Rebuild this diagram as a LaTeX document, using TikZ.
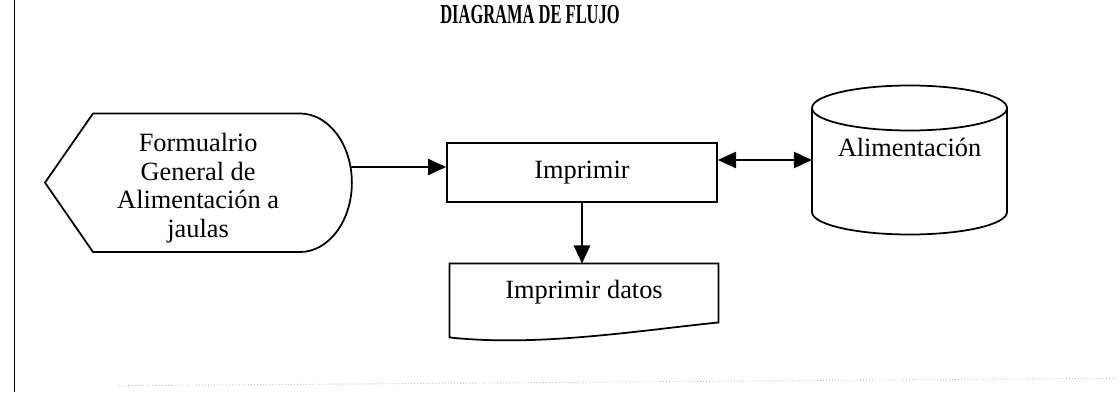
\documentclass[tikz,border=0pt]{standalone}
\usepackage{fontspec}
\setmainfont{Liberation Serif}
\usepackage{graphicx}
\usepackage{tikz}
\usetikzlibrary{arrows.meta,positioning}

\begin{document}
\begin{tikzpicture}[
  txt/.style={align=center,font=\fontsize{12}{13}\selectfont,inner sep=1pt},
  proc/.style={draw,line width=0.8pt,minimum width=4.32cm,minimum height=0.944cm,
               font=\fontsize{12}{13}\selectfont},
  doc/.style={minimum width=4.288cm,minimum height=1.168cm,text depth=0.36cm,
              font=\fontsize{12}{13}\selectfont},
  shp/.style={line width=0.8pt},
  ar/.style={-{Triangle[length=2.9mm,width=2.6mm]},line width=0.7pt},
  dar/.style={{Triangle[length=2.9mm,width=2.6mm]}-{Triangle[length=2.9mm,width=2.6mm]},line width=0.7pt}
]
\useasboundingbox (0,0) rectangle (17.888,6.272);
% what is left of the page frame
\draw[line width=0.6pt] (0.23,0) -- (0.23,6.272);
\draw[gray!55,densely dotted,line width=0.4pt] (1.9,0.1) -- (17.888,0.22);
% title
\node[font=\bfseries\fontsize{12.5}{14}\selectfont] (title) at (8.48,6.04) {\scalebox{0.6}[1]{DIAGRAMA DE FLUJO}};
% display: the form
\draw[shp] (1.488,4.456) -- (4.8,4.456) arc[start angle=90,end angle=-90,x radius=0.83,y radius=1.108]
  -- (1.488,2.24) -- (0.72,3.35) -- cycle;
\node[txt] (form) at (3.17,3.26) {Formualrio\\General de\\Alimentación a\\jaulas};
\coordinate (formR) at (5.62,3.6);
% process
\node[proc] (imp) at (9.312,3.512) {Imprimir};
% stored data
\draw[shp] (12.992,4.544) -- (12.992,2.88) arc[start angle=180,end angle=360,x radius=1.56,y radius=0.36]
  -- (16.112,4.544);
\draw[shp] (14.552,4.544) ellipse[x radius=1.56,y radius=0.36];
\node[txt] (alim) at (14.552,3.91) {Alimentación};
\coordinate (dbL) at (12.992,3.712);
% printed document
\node[doc] (datos) at (9.344,1.464) {Imprimir datos};
\draw[shp] (datos.north west) -- (datos.north east) -- ([yshift=0.24cm]datos.south east)
  .. controls (10.2,0.98) and (8.6,0.72) .. (datos.south west) -- cycle;
% flow
\draw[ar] (formR) -- (formR -| imp.west);
\draw[dar] (imp.east |- dbL) -- (dbL);
\draw[ar,line width=0.9pt] (imp.south) -- (imp.south |- datos.north);
\end{tikzpicture}
\end{document}
